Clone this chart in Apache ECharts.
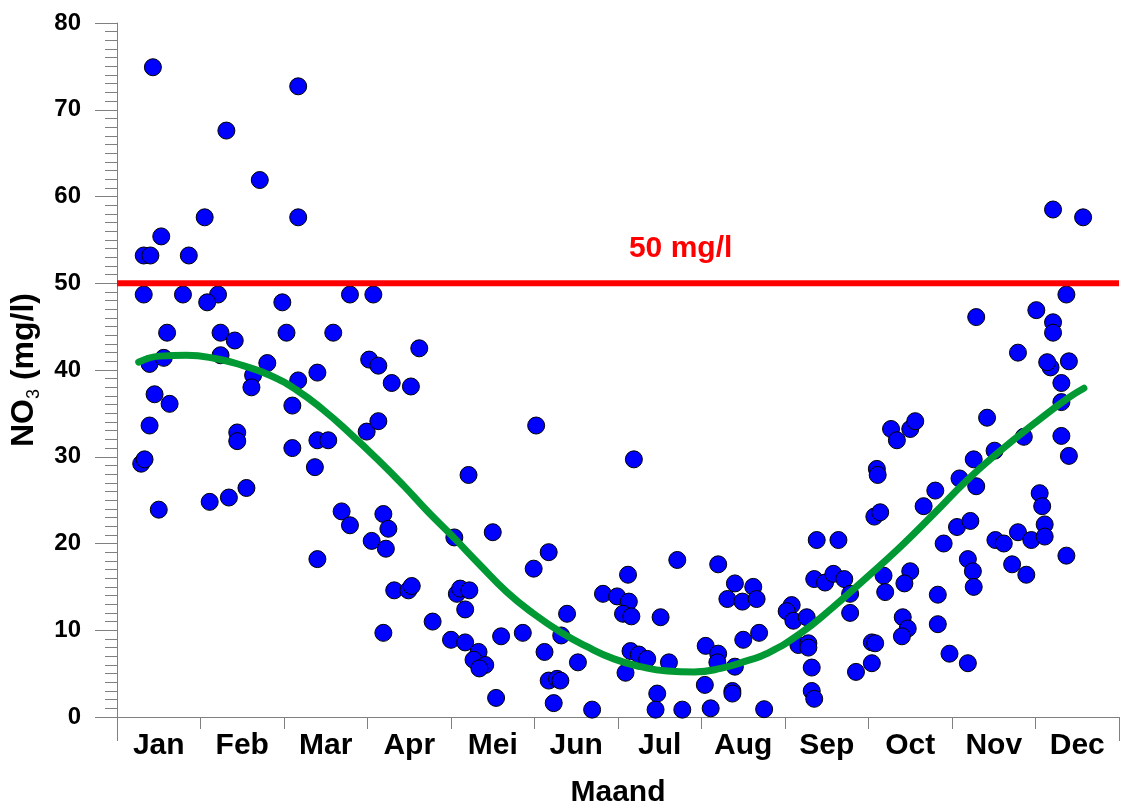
<!DOCTYPE html>
<html><head><meta charset="utf-8">
<script src="https://cdn.jsdelivr.net/npm/echarts@6/dist/echarts.min.js"></script>
<style>html,body{margin:0;padding:0;background:#fff}#c{width:1121px;height:807px}</style>
</head><body><div id="c"></div>
<script>
const months = ['Jan','Feb','Mar','Apr','Mei','Jun','Jul','Aug','Sep','Oct','Nov','Dec'];
const xTitle = 'Maand';
const limitValue = 50;
const limitLabel = '50 mg/l';
const limitLabelPos = [6.75, 54];

// observations: month position (0..12) and NO3 (mg/l)
const obsMonth = [
 0.43,0.53,0.32,0.40,0.86,0.32,0.79,0.60,0.39,0.56,0.45,0.63,0.39,0.29,0.33,0.50,
 1.31,1.71,1.05,1.21,1.08,1.24,1.41,1.24,1.80,1.63,1.61,1.44,1.44,1.11,1.34,1.55,
 2.17,2.17,1.98,2.79,2.03,2.59,2.40,2.17,2.10,2.10,2.40,2.53,2.37,2.69,2.79,2.40,2.99,
 3.07,3.02,3.13,3.29,3.52,3.13,3.62,3.05,3.19,3.25,3.22,3.32,3.49,3.53,3.78,3.19,
 4.21,4.04,4.50,4.07,4.11,4.22,4.17,4.00,4.17,4.60,4.86,4.33,4.27,4.41,4.34,4.54,
 5.02,5.17,4.99,5.12,5.39,5.32,5.52,5.17,5.27,5.31,5.23,5.69,5.82,5.99,
 6.19,6.71,6.12,6.13,6.06,6.16,6.51,6.15,6.25,6.35,6.61,6.09,6.47,6.45,6.77,
 7.20,7.05,7.20,7.19,7.40,7.04,7.37,7.37,7.11,7.40,7.31,7.49,7.62,7.66,7.50,7.69,7.75,
 8.08,8.02,8.10,8.26,8.16,8.28,8.28,8.32,8.32,8.35,8.38,8.64,8.35,8.48,8.58,8.71,8.78,8.78,8.85,
 9.04,9.08,9.04,9.18,9.20,9.07,9.14,9.10,9.11,9.27,9.34,9.50,9.56,9.50,9.43,9.41,9.47,9.40,9.66,9.80,9.90,9.83,9.83,9.97,
 10.09,10.26,10.29,10.06,10.22,10.19,10.25,10.26,10.19,10.42,10.51,10.52,10.62,10.72,10.89,10.79,10.86,10.95,10.29,10.79,
 11.05,11.08,11.11,11.11,11.37,11.31,11.40,11.31,11.31,11.18,11.14,11.40,11.21,11.57,11.01,11.37,11.21,11.21
];
const obsNO3 = [
 74.9,55.4,53.2,53.2,53.2,48.7,48.7,44.3,40.7,41.4,37.2,36.1,33.6,29.2,29.7,23.9,
 67.6,61.9,57.6,48.7,47.8,44.3,43.4,41.7,40.8,39.4,38.0,32.8,31.8,24.8,25.3,26.4,
 72.7,57.6,47.8,48.7,44.3,44.3,39.7,38.8,35.9,31.0,31.9,31.9,28.8,23.7,22.1,18.2,32.9,
 48.7,41.2,40.5,38.5,38.1,34.1,42.5,20.3,23.4,21.7,19.4,14.6,14.6,15.1,11.0,9.7,
 27.9,20.7,21.3,14.2,14.8,14.6,12.4,8.9,8.6,9.3,9.7,7.5,6.6,6.0,5.6,2.2,
 33.6,19.0,17.1,7.5,11.9,9.4,6.3,4.2,4.4,4.2,1.6,0.85,14.2,13.9,
 29.7,18.1,16.4,13.3,11.9,11.6,11.5,7.6,7.2,6.7,6.3,5.1,2.7,0.85,0.85,
 17.6,8.2,7.3,6.3,5.8,3.7,3.0,2.7,1.0,15.4,13.6,13.3,15.0,13.6,8.9,9.7,0.9,
 12.9,12.2,11.1,11.5,8.3,8.5,8.0,5.7,3.0,2.1,20.4,20.4,15.9,15.5,16.5,15.9,14.2,12.0,5.2,
 8.6,8.5,6.2,16.3,14.4,23.1,23.6,28.6,27.9,33.2,31.9,33.2,34.1,16.8,15.4,11.5,10.2,9.3,24.3,26.1,20.0,14.1,10.7,7.3,
 27.5,29.7,26.6,21.9,22.6,18.2,16.8,15.0,6.2,34.5,30.7,20.4,20.0,17.6,16.4,21.3,32.3,20.4,46.1,42.0,
 25.8,24.3,22.2,20.8,18.6,32.4,30.1,36.3,38.5,40.3,40.9,41.0,58.5,57.6,46.9,48.7,45.5,44.3
];

// seasonal trend curve
const fitMonth = [0.26,0.51,0.83,1.19,1.51,1.83,2.15,2.47,2.79,3.11,3.43,3.71,4.03,4.35,4.67,4.99,5.31,5.63,5.95,6.27,6.59,6.91,7.23,7.55,7.78,8.18,8.58,8.98,9.38,9.78,10.18,10.58,10.98,11.38,11.58];
const fitNO3  = [40.9,41.6,41.7,41.3,40.5,39.4,37.7,35.4,32.7,29.8,26.7,23.8,20.7,17.5,14.4,11.9,9.8,8.1,6.7,5.8,5.3,5.2,5.6,6.5,7.3,9.6,12.7,16.1,19.6,23.4,27.3,30.7,33.8,36.7,37.9];

const FONT = "'Liberation Sans', Arial, sans-serif";
const GRAY = '#808080';

const chart = echarts.init(document.getElementById('c'), null, {renderer:'canvas'});
chart.setOption({
  animation:false,
  backgroundColor:'#ffffff',
  grid:{left:117, right:2, top:23, bottom:90, containLabel:false, outerBoundsMode:'none'},
  xAxis:[
    {type:'value', min:0, max:12, interval:1,
     axisLine:{show:true, onZero:false, lineStyle:{color:GRAY, width:1}},
     axisTick:{show:true, length:12, lineStyle:{color:GRAY}},
     axisLabel:{show:false}, splitLine:{show:false},
     name:xTitle, nameLocation:'middle', nameGap:61,
     nameTextStyle:{fontFamily:FONT, fontWeight:'bold', fontSize:30, color:'#000'}},
    {type:'category', data:months, boundaryGap:true, position:'bottom',
     axisLine:{show:false}, axisTick:{show:false}, splitLine:{show:false},
     axisLabel:{show:true, margin:14, fontFamily:FONT, fontWeight:'bold', fontSize:30, color:'#000'}},
    {type:'value', min:0, max:12, interval:12, position:'bottom',
     axisLine:{show:false}, axisTick:{show:true, length:24, lineStyle:{color:GRAY}},
     axisLabel:{show:false}, splitLine:{show:false}}
  ],
  yAxis:{type:'value', min:0, max:80, interval:10,
     axisLine:{show:true, lineStyle:{color:GRAY, width:1}},
     axisTick:{show:true, length:22, lineStyle:{color:GRAY}},
     minorTick:{show:true, splitNumber:10, length:12, lineStyle:{color:GRAY}},
     splitLine:{show:false},
     axisLabel:{margin:36, fontFamily:FONT, fontWeight:'bold', fontSize:24, color:'#000'},
     name:'{a|NO}{s|3}{a| (mg/l)}', nameLocation:'middle', nameRotate:90, nameGap:68,
     nameTextStyle:{fontFamily:FONT, fontWeight:'bold', fontSize:32, color:'#000',
       rich:{
         a:{fontFamily:FONT, fontWeight:'bold', fontSize:32, color:'#000', lineHeight:38},
         s:{fontFamily:FONT, fontWeight:'normal', fontSize:18, color:'#000', lineHeight:14, verticalAlign:'bottom'}
       }}
  },
  series:[
    {type:'scatter', xAxisIndex:0, symbol:'circle', symbolSize:17,
     itemStyle:{color:'#0000ff', borderColor:'#000', borderWidth:1, opacity:1},
     data: obsMonth.map((m,i)=>[m, obsNO3[i]]), z:2},
    {type:'line', xAxisIndex:0, data:[[0,limitValue],[12,limitValue]], symbol:'none',
     lineStyle:{color:'#ff0000', width:6}, z:3, silent:true},
    {type:'scatter', xAxisIndex:0, data:[limitLabelPos], symbolSize:0, z:4, silent:true,
     itemStyle:{opacity:1, color:'#ff0000'},
     label:{show:true, position:'inside', formatter:limitLabel, fontFamily:FONT, fontWeight:'bold', fontSize:30, color:'#ff0000', opacity:1}},
    {type:'line', xAxisIndex:0, data: fitMonth.map((m,i)=>[m, fitNO3[i]]), smooth:true, symbol:'none',
     lineStyle:{color:'#009933', width:7, cap:'round'}, z:5}
  ]
});
</script></body></html>
